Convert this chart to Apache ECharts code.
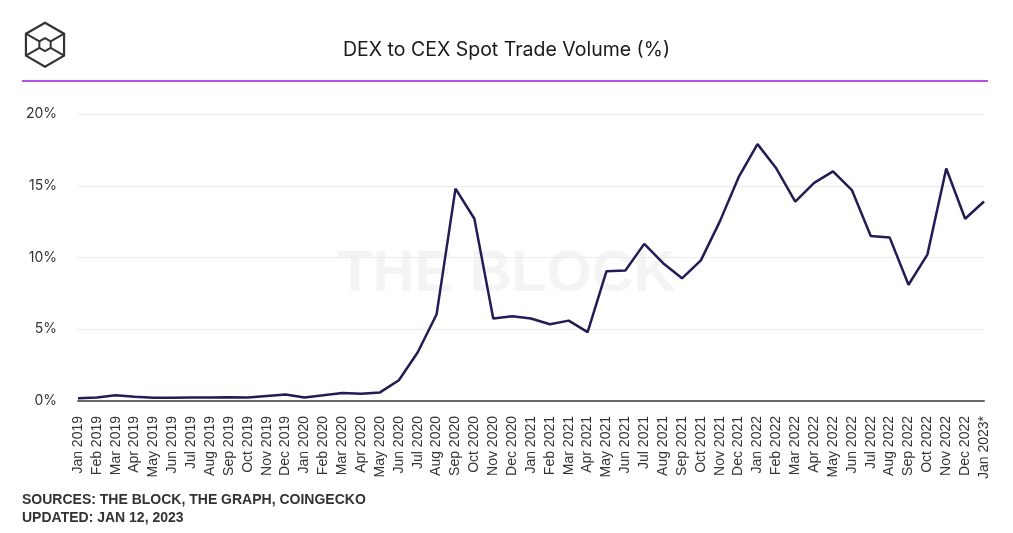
<!DOCTYPE html>
<html><head><meta charset="utf-8">
<script src="https://cdn.jsdelivr.net/npm/echarts@6/dist/echarts.min.js"></script>
<style>html,body{margin:0;padding:0;background:#fff}#c{width:1013px;height:533px}</style>
</head><body><div id="c"></div>
<script>
const categories = ["Jan 2019","Feb 2019","Mar 2019","Apr 2019","May 2019","Jun 2019","Jul 2019","Aug 2019","Sep 2019","Oct 2019","Nov 2019","Dec 2019",
"Jan 2020","Feb 2020","Mar 2020","Apr 2020","May 2020","Jun 2020","Jul 2020","Aug 2020","Sep 2020","Oct 2020","Nov 2020","Dec 2020",
"Jan 2021","Feb 2021","Mar 2021","Apr 2021","May 2021","Jun 2021","Jul 2021","Aug 2021","Sep 2021","Oct 2021","Nov 2021","Dec 2021",
"Jan 2022","Feb 2022","Mar 2022","Apr 2022","May 2022","Jun 2022","Jul 2022","Aug 2022","Sep 2022","Oct 2022","Nov 2022","Dec 2022","Jan 2023*"];
const dexToCex = [0.2,0.25,0.4,0.3,0.22,0.22,0.25,0.25,0.27,0.25,0.35,0.45,
0.25,0.4,0.55,0.5,0.6,1.45,3.4,6.05,14.8,12.7,5.75,5.9,
5.75,5.35,5.6,4.8,9.05,9.1,10.95,9.6,8.55,9.8,12.5,15.6,
17.9,16.2,13.9,15.2,16.0,14.7,11.5,11.4,8.1,10.2,16.2,12.7,13.9];
const yTicks = [0,5,10,15,20];
const titleText = "DEX to CEX Spot Trade Volume (%)";
const sourceText = "SOURCES: THE BLOCK, THE GRAPH, COINGECKO";
const updatedText = "UPDATED: JAN 12, 2023";

const chart = echarts.init(document.getElementById('c'), null, {renderer:'canvas'});
const hex = (cx,cy,r)=>{const p=[];for(let i=0;i<6;i++){const a=Math.PI/180*(60*i-90);p.push([cx+r*Math.cos(a),cy+r*Math.sin(a)]);}return p;};
const outer = hex(45,44.7,22);
const inner = hex(45,44.7,6.5);
chart.setOption({
  animation:false,
  title:{text:titleText,left:'center',top:35,textStyle:{fontFamily:'Inter',fontSize:19.5,fontWeight:400,color:'#1a1a1a'}},
  graphic:[
    {type:'polygon',shape:{points:outer},style:{fill:'none',stroke:'#333',lineWidth:2.2}},
    {type:'polygon',shape:{points:inner},style:{fill:'none',stroke:'#333',lineWidth:2}},
    {type:'line',shape:{x1:outer[5][0],y1:outer[5][1],x2:inner[5][0],y2:inner[5][1]},style:{stroke:'#333',lineWidth:2}},
    {type:'line',shape:{x1:outer[1][0],y1:outer[1][1],x2:inner[1][0],y2:inner[1][1]},style:{stroke:'#333',lineWidth:2}},
    {type:'line',shape:{x1:outer[2][0],y1:outer[2][1],x2:inner[2][0],y2:inner[2][1]},style:{stroke:'#333',lineWidth:2}},
    {type:'line',shape:{x1:outer[4][0],y1:outer[4][1],x2:inner[4][0],y2:inner[4][1]},style:{stroke:'#333',lineWidth:2}},
    {type:'rect',shape:{x:22,y:80,width:966,height:2},style:{fill:'#b550e6'}},
    {type:'text',left:'center',top:246,z:-1,style:{text:'THE BLOCK',font:'bold 58px "Liberation Sans", Arial',fill:'rgba(0,0,0,0.045)'}},
    {type:'text',left:22,top:493,style:{text:sourceText,font:'bold 14px "Liberation Sans", Arial',fill:'#333'}},
    {type:'text',left:22,top:511,style:{text:updatedText,font:'bold 14px "Liberation Sans", Arial',fill:'#333'}}
  ],
  grid:{left:78,right:29,top:114,bottom:132,containLabel:false},
  xAxis:{type:'category',data:categories,boundaryGap:false,
    axisLine:{lineStyle:{color:'#666',width:2}},axisTick:{show:false},
    axisLabel:{rotate:90,interval:0,fontFamily:'Liberation Sans',fontSize:14,color:'#333',margin:15}},
  yAxis:{type:'value',min:yTicks[0],max:yTicks[yTicks.length-1],interval:5,
    axisLine:{show:false},axisTick:{show:false},
    axisLabel:{formatter:v=>v+'%',fontFamily:'Inter',fontSize:14,color:'#333',margin:21,padding:[5,0,0,0]},
    splitLine:{lineStyle:{color:'#ebebeb',width:1}}},
  series:[{type:'line',data:dexToCex,symbol:'none',lineStyle:{color:'#221c55',width:2.5}}]
});
</script></body></html>
